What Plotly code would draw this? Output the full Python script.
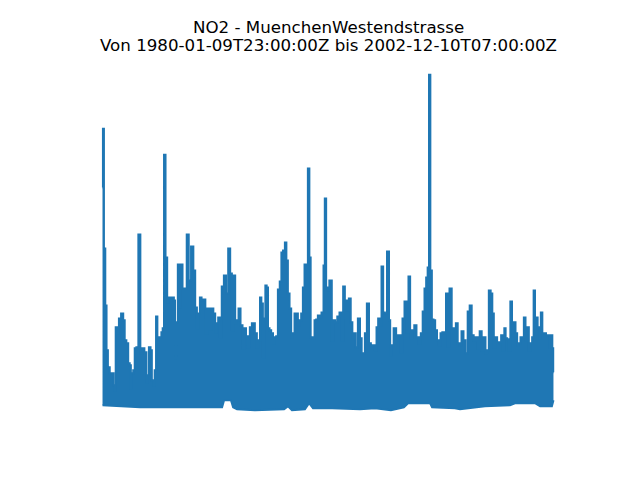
import plotly.graph_objects as go
from datetime import datetime

# Upper envelope of hourly NO2 readings (decimal year, value)
t_hi = [1980.025, 1980.066, 1980.127, 1980.203, 1980.254, 1980.340, 1980.442, 1980.559, 1980.609, 1980.660,
        1980.726, 1980.813, 1980.899, 1981.031, 1981.117, 1981.183, 1981.285, 1981.371, 1981.438, 1981.488,
        1981.539, 1981.626, 1981.692, 1981.793, 1981.895, 1981.997, 1982.083, 1982.220, 1982.286, 1982.337,
        1982.423, 1982.505, 1982.555, 1982.642, 1982.708, 1982.779, 1982.845, 1982.982, 1983.048, 1983.114,
        1983.185, 1983.267, 1983.353, 1983.439, 1983.607, 1983.694, 1983.724, 1983.795, 1983.826, 1983.877,
        1983.963, 1984.049, 1984.130, 1984.252, 1984.354, 1984.456, 1984.588, 1984.689, 1984.776, 1984.862,
        1984.928, 1985.015, 1985.096, 1985.198, 1985.299, 1985.401, 1985.503, 1985.604, 1985.706, 1985.792,
        1985.858, 1985.944, 1986.031, 1986.132, 1986.249, 1986.351, 1986.468, 1986.554, 1986.640, 1986.722,
        1986.808, 1986.894, 1986.976, 1987.098, 1987.179, 1987.265, 1987.367, 1987.453, 1987.570, 1987.657,
        1987.707, 1987.824, 1987.911, 1987.992, 1988.063, 1988.129, 1988.216, 1988.266, 1988.332, 1988.399,
        1988.470, 1988.551, 1988.637, 1988.739, 1988.805, 1988.891, 1988.978, 1989.079, 1989.145, 1989.247,
        1989.333, 1989.399, 1989.486, 1989.567, 1989.654, 1989.740, 1989.821, 1989.908, 1989.994, 1990.075,
        1990.162, 1990.248, 1990.329, 1990.416, 1990.502, 1990.568, 1990.634, 1990.756, 1990.838, 1990.924,
        1991.010, 1991.091, 1991.213, 1991.295, 1991.345, 1991.432, 1991.518, 1991.584, 1991.650, 1991.701,
        1991.788, 1991.904, 1992.006, 1992.128, 1992.209, 1992.296, 1992.382, 1992.499, 1992.585, 1992.687,
        1992.753, 1992.839, 1992.941, 1993.058, 1993.159, 1993.225, 1993.312, 1993.398, 1993.515, 1993.617,
        1993.703, 1993.820, 1993.906, 1993.988, 1994.074, 1994.160, 1994.242, 1994.328, 1994.415, 1994.547,
        1994.618, 1994.668, 1994.750, 1994.887, 1995.004, 1995.126, 1995.227, 1995.309, 1995.431, 1995.532,
        1995.613, 1995.700, 1995.817, 1995.918, 1996.040, 1996.157, 1996.243, 1996.345, 1996.427, 1996.513,
        1996.579, 1996.650, 1996.716, 1996.803, 1996.884, 1996.970, 1997.072, 1997.158, 1997.240, 1997.341,
        1997.443, 1997.514, 1997.595, 1997.717, 1997.819, 1997.936, 1998.022, 1998.124, 1998.205, 1998.327,
        1998.407, 1998.529, 1998.631, 1998.733, 1998.835, 1998.936, 1999.038, 1999.140, 1999.241, 1999.343,
        1999.445, 1999.526, 1999.612, 1999.699, 1999.800, 1999.866, 1999.953, 2000.034, 2000.120, 2000.237,
        2000.324, 2000.410, 2000.476, 2000.542, 2000.628, 2000.715, 2000.781, 2000.883, 2000.969, 2001.050,
        2001.137, 2001.223, 2001.304, 2001.391, 2001.477, 2001.558, 2001.645, 2001.731, 2001.812, 2001.899,
        2001.965, 2002.036, 2002.102, 2002.168, 2002.254, 2002.341, 2002.407, 2002.508, 2002.610, 2002.712,
        2002.798, 2002.849, 2002.915, 2002.940]
no2_hi = [223, 282, 162, 105, 60, 43, 37, 37, 25, 20,
          83, 77, 92, 97, 90, 70, 67, 47, 45, 22,
          37, 40, 62, 63, 176, 57, 62, 58, 28, 35,
          63, 60, 30, 25, 40, 94, 73, 73, 78, 82,
          256, 153, 108, 113, 113, 110, 52, 88, 88, 146,
          103, 146, 122, 122, 176, 130, 164, 140, 103, 82,
          97, 113, 110, 111, 77, 102, 81, 102, 97, 78,
          87, 93, 73, 124, 135, 117, 162, 137, 80, 135,
          87, 90, 102, 85, 62, 82, 74, 63, 83, 87,
          87, 77, 63, 70, 113, 107, 53, 92, 125, 123,
          82, 80, 77, 67, 73, 74, 121, 129, 158, 160,
          168, 150, 117, 102, 73, 77, 97, 97, 85, 90,
          97, 123, 146, 146, 242, 153, 73, 72, 90, 91,
          95, 93, 98, 145, 212, 123, 120, 130, 130, 70,
          90, 88, 94, 98, 70, 124, 110, 100, 112, 88,
          73, 77, 63, 92, 72, 57, 57, 77, 107, 67,
          64, 65, 60, 83, 92, 85, 144, 98, 97, 159,
          90, 55, 65, 82, 75, 75, 58, 92, 109, 78,
          134, 72, 80, 85, 73, 67, 77, 99, 122, 133,
          143, 336, 140, 91, 90, 80, 70, 65, 77, 78,
          77, 117, 64, 122, 82, 82, 87, 67, 65, 79,
          70, 57, 99, 105, 75, 70, 73, 62, 79, 60,
          73, 57, 60, 120, 117, 97, 63, 73, 67, 68,
          75, 60, 82, 72, 71, 60, 109, 87, 88, 77,
          65, 67, 73, 73, 93, 70, 83, 60, 67, 73,
          120, 85, 93, 83, 72, 98, 77, 77, 75, 75,
          63, 75, 62, 38]

# Lower envelope (decimal year, value)
t_lo = [1980.025, 1981.930, 1983.760, 1986.100, 1986.200, 1986.550, 1986.660, 1986.860, 1987.770, 1989.250,
        1989.450, 1989.650, 1990.310, 1990.520, 1990.720, 1991.690, 1993.110, 1993.870, 1994.680, 1994.940,
        1995.340, 1995.550, 1996.670, 1996.770, 1997.930, 1998.190, 1999.460, 2000.730, 2000.980, 2002.000,
        2002.260, 2002.860, 2002.940]
no2_lo = [5, 3, 3, 3, 10, 10, 3, 1, 0, 1,
          4, 0, 1, 7, 2, 2, 1, 2, 0, 1,
          3, 7, 7, 3, 2, 1, 4, 5, 7, 7,
          4, 4, 10]

title_line1 = "NO2 - MuenchenWestendstrasse"
title_line2 = "Von 1980-01-09T23:00:00Z bis 2002-12-10T07:00:00Z"
color = "#1f77b4"


def dec2dt(y):
    yr = int(y)
    start = datetime(yr, 1, 1)
    end = datetime(yr + 1, 1, 1)
    return start + (y - yr) * (end - start)


x_hi = [dec2dt(v) for v in t_hi]
x_lo = [dec2dt(v) for v in t_lo]

fig = go.Figure()
fig.add_trace(go.Scatter(x=x_lo, y=no2_lo, mode="lines",
                         line=dict(color=color, width=2), showlegend=False))
fig.add_trace(go.Scatter(x=x_hi, y=no2_hi, mode="lines", fill="tonexty",
                         fillcolor=color, line=dict(color=color, width=2, shape="hvh"),
                         showlegend=False))

span = t_hi[-1] - t_hi[0]
ymax = max(no2_hi)
ymin = min(no2_lo)
ypad = (ymax - ymin) * 0.05

# page body has an 8px default margin -> figure sized/offset to compensate
plot_top, plot_bottom = 57.6, 427.2
plot_h = plot_bottom - plot_top


def paper_y(py):
    return (plot_bottom - py) / plot_h


title_font = dict(size=16.67, family="DejaVu Sans", color="black")
fig.add_annotation(text=title_line1, x=0.5, xref="paper", xanchor="center",
                   y=paper_y(27.5), yref="paper", yanchor="middle",
                   showarrow=False, font=title_font)
fig.add_annotation(text=title_line2, x=0.5, xref="paper", xanchor="center",
                   y=paper_y(45.0), yref="paper", yanchor="middle",
                   showarrow=False, font=title_font)

fig.update_layout(
    width=632, height=472,
    margin=dict(l=72, r=64, t=49.6, b=52.8, autoexpand=False),
    paper_bgcolor="white", plot_bgcolor="white",
    font=dict(family="DejaVu Sans", color="black"),
    xaxis=dict(visible=False,
               range=[dec2dt(t_hi[0] - span * 0.05), dec2dt(t_hi[-1] + span * 0.05)]),
    yaxis=dict(visible=False, range=[ymin - ypad, ymax + ypad]),
)

fig.write_html("out.html")
